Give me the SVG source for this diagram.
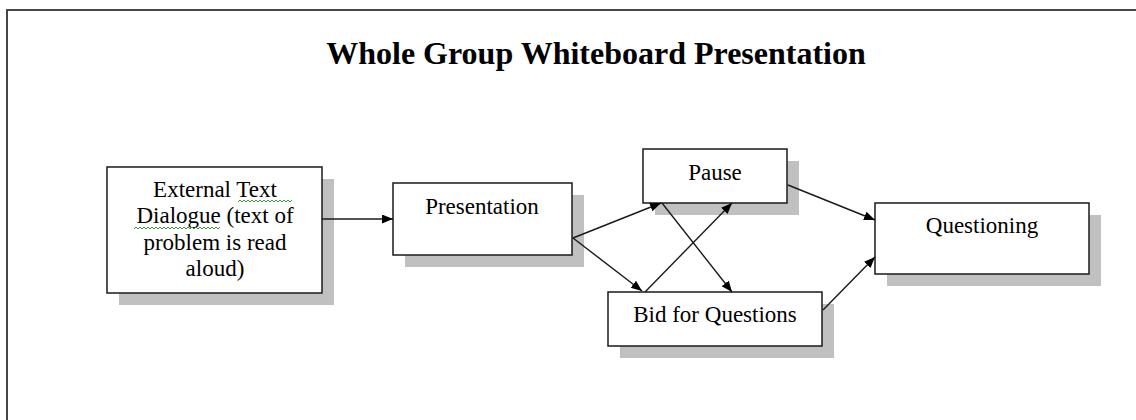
<svg xmlns="http://www.w3.org/2000/svg" width="1136" height="420" viewBox="0 0 1136 420">
  <style>
    .box { fill: #ffffff; stroke: #1a1a1a; stroke-width: 1.5; }
    .shadow { fill: #c0c0c0; stroke: none; }
    .lbl { font-family: "Liberation Serif", "Times New Roman", serif; font-size: 23px; fill: #000; text-anchor: middle; }
    .title { font-family: "Liberation Serif", "Times New Roman", serif; font-size: 32px; font-weight: bold; fill: #000; text-anchor: middle; }
    .conn { stroke: #1a1a1a; stroke-width: 1.4; fill: none; marker-end: url(#arrow); }
    .squig { stroke: #3a9a3a; stroke-width: 1; fill: none; }
  </style>
  <defs>
    <marker id="arrow" markerUnits="userSpaceOnUse" markerWidth="12" markerHeight="10" refX="11" refY="4.5" orient="auto">
      <path d="M0,0 L11,4.5 L0,9 z" fill="#000"/>
    </marker>
  </defs>
  <rect x="0" y="0" width="1136" height="420" fill="#ffffff"/>
  <rect x="7" y="10" width="1140" height="420" fill="none" stroke="#333" stroke-width="1.8"/>
  <text class="title" x="596" y="64">Whole Group Whiteboard Presentation</text>

  <g id="node-external">
    <rect class="shadow" x="119" y="179" width="215" height="126"/>
    <rect class="box" x="107" y="167" width="215" height="126"/>
    <text class="lbl" x="215" y="197">External Text</text>
    <text class="lbl" x="215" y="223">Dialogue (text of</text>
    <text class="lbl" x="215" y="250">problem is read</text>
    <text class="lbl" x="215" y="276">aloud)</text>
    <path class="squig" d="M238,202 l2,-2 l2,2 l2,-2 l2,2 l2,-2 l2,2 l2,-2 l2,2 l2,-2 l2,2 l2,-2 l2,2 l2,-2 l2,2 l2,-2 l2,2 l2,-2 l2,2 l2,-2 l2,2 l2,-2 l2,2 l2,-2 l2,2 l2,-2 l2,2 l2,-2"/>
    <path class="squig" d="M134,229 l2,-2 l2,2 l2,-2 l2,2 l2,-2 l2,2 l2,-2 l2,2 l2,-2 l2,2 l2,-2 l2,2 l2,-2 l2,2 l2,-2 l2,2 l2,-2 l2,2 l2,-2 l2,2 l2,-2 l2,2 l2,-2 l2,2 l2,-2 l2,2 l2,-2 l2,2 l2,-2 l2,2 l2,-2 l2,2 l2,-2 l2,2 l2,-2 l2,2 l2,-2 l2,2 l2,-2 l2,2 l2,-2 l2,2 l2,-2"/>
  </g>

  <g id="node-presentation">
    <rect class="shadow" x="405" y="195" width="179" height="72"/>
    <rect class="box" x="393" y="183" width="179" height="72"/>
    <text class="lbl" x="482" y="214">Presentation</text>
  </g>

  <g id="node-pause">
    <rect class="shadow" x="655" y="161" width="144" height="54"/>
    <rect class="box" x="643" y="149" width="144" height="54"/>
    <text class="lbl" x="715" y="180">Pause</text>
  </g>

  <g id="node-bid">
    <rect class="shadow" x="620" y="304" width="214" height="54"/>
    <rect class="box" x="608" y="292" width="214" height="54"/>
    <text class="lbl" x="715" y="322">Bid for Questions</text>
  </g>

  <g id="node-questioning">
    <rect class="shadow" x="887" y="215" width="214" height="71"/>
    <rect class="box" x="875" y="203" width="214" height="71"/>
    <text class="lbl" x="982" y="233">Questioning</text>
  </g>

  <g id="connectors">
    <path class="conn" d="M322,219 L393,219"/>
    <path class="conn" d="M573,238 L661,203"/>
    <path class="conn" d="M573,238 L642,291"/>
    <path class="conn" d="M662,203 L732,292"/>
    <path class="conn" d="M645,292 L732,203"/>
    <path class="conn" d="M788,185 L875,220"/>
    <path class="conn" d="M823,310 L875,257"/>
  </g>
</svg>
